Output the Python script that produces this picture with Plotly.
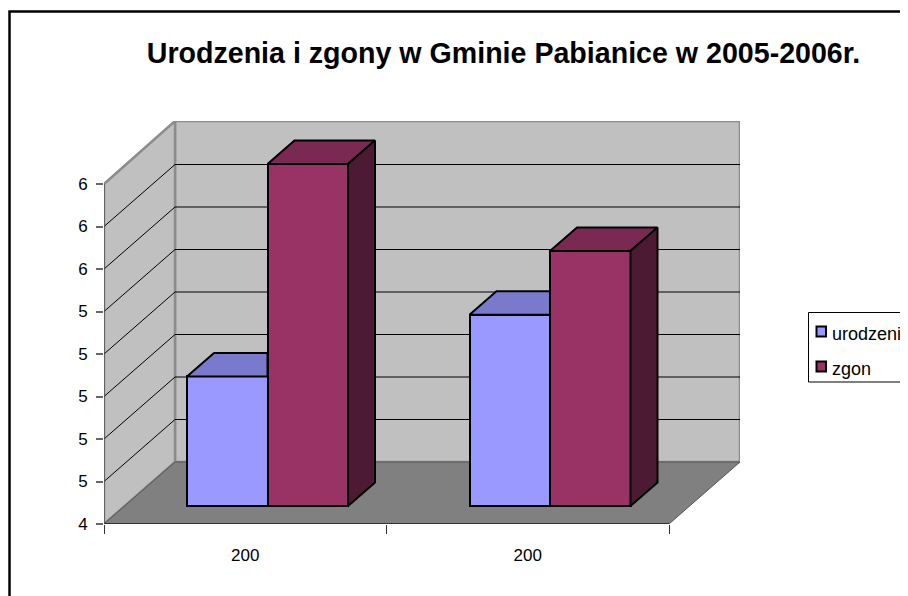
import plotly.graph_objects as go

# ---- data ----
title = "Urodzenia i zgony w Gminie Pabianice w 2005-2006r."
categories = ["200", "200"]
series_names = ["urodzeni", "zgon"]
urodzeni = [5.01, 5.3]
zgon = [6.01, 5.6]
y_ticks = [4.4, 4.6, 4.8, 5.0, 5.2, 5.4, 5.6, 5.8, 6.0]
y_labels = ["4", "5", "5", "5", "5", "5", "6", "6", "6"]

# ---- styles ----
FONT = "Liberation Sans, Arial, sans-serif"
WALL, FLOOR, BORDER = "#C0C0C0", "#808080", "#8C8C8C"
colors = {"urodzeni": ("#9999FF", "#7A7ACC", "#4D4D80"),
          "zgon": ("#993366", "#7A2952", "#4D1A33")}

# ---- geometry of the oblique projection (in axis units) ----
OFF = 8                               # the page's body margin
PAGE_W, PAGE_H = 908, 596
W, H = PAGE_W - OFF, PAGE_H - OFF
L, R, T, B = 104, 740, 121, 524       # plot-area position on the page
UX = 282.5                            # px per category
UY = 212.5                            # px per y unit
Y0 = y_ticks[0]
Y1 = y_ticks[-1]
DX, DY = 71 / UX, 62 / UY             # wall depth
XMAX = (R - L) / UX
YMAX = Y0 + (B - T) / UY
LIFT_X, LIFT_Y = 21 / UX, 18 / UY     # bar front offset from the front edge
BD_X, BD_Y = 27 / UX, 23.5 / UY       # bar depth
GAP, BW = 62 / UX, 80.5 / UX          # gap before first bar, bar width
NCAT = len(categories)


def px(x):
    return (x - L) / (R - L)


def py(y):
    return (B - y) / (B - T)


def poly(points):
    return "M" + "L".join(f"{x},{y}" for x, y in points) + "Z"


def seg(x0, y0, x1, y1, color, width):
    return dict(type="line", xref="x", yref="y", x0=x0, y0=y0, x1=x1, y1=y1,
                layer="below", line=dict(color=color, width=width))


shapes = []
# back wall, side wall, floor
shapes.append(dict(type="path", xref="x", yref="y", layer="below",
                   path=poly([(DX, Y0 + DY), (XMAX, Y0 + DY), (XMAX, YMAX), (DX, YMAX)]),
                   fillcolor=WALL, line=dict(color=BORDER, width=2.5)))
shapes.append(dict(type="path", xref="x", yref="y", layer="below",
                   path=poly([(0, Y0), (DX, Y0 + DY), (DX, YMAX), (0, Y1)]),
                   fillcolor=WALL, line=dict(color=BORDER, width=2.5)))
# gridlines
for t in y_ticks[1:-1]:
    shapes.append(seg(0, t, DX, t + DY, "#000000", 1))
    shapes.append(seg(DX, t + DY, XMAX, t + DY, "#000000", 1))
shapes.append(dict(type="path", xref="x", yref="y", layer="below",
                   path=poly([(0, Y0), (NCAT, Y0), (XMAX, Y0 + DY), (DX, Y0 + DY)]),
                   fillcolor=FLOOR, line=dict(color="#555555", width=1)))
# axis lines and x ticks
shapes.append(seg(0, Y0, 0, Y1, "#555555", 1.5))
shapes.append(seg(0, Y0, NCAT, Y0, "#333333", 2))

# chart frame (runs off the right and bottom of the page)
shapes.append(dict(type="path", xref="paper", yref="paper", layer="below",
                   path=f"M{px(PAGE_W + 5)},{py(11.5)}L{px(9.5)},{py(11.5)}L{px(9.5)},{py(PAGE_H + 5)}",
                   line=dict(color="#000000", width=2.5)))
# legend box and swatches
shapes.append(dict(type="rect", xref="paper", yref="paper",
                   x0=px(808.5), x1=px(PAGE_W + 5), y0=py(312.5), y1=py(382),
                   fillcolor="#FFFFFF", line=dict(color="#000000", width=1)))
annotations = []
for name, y in zip(series_names, (331.5, 366.5)):
    shapes.append(dict(type="rect", xref="paper", yref="paper",
                       x0=px(816.5), x1=px(826), y0=py(y - 5), y1=py(y + 5),
                       fillcolor=colors[name][0], line=dict(color="#000000", width=2)))
    annotations.append(dict(xref="paper", yref="paper", x=px(830), y=py(y + 2),
                            text=name, showarrow=False, xanchor="left", yanchor="middle",
                            font=dict(family=FONT, size=18, color="#000000")))

fig = go.Figure()

# bar faces: fronts are real bars, top and side are derived polygons
for s, (name, values) in enumerate(zip(series_names, (urodzeni, zgon))):
    front, top, side = colors[name]
    fig.add_trace(go.Bar(
        x=[i + GAP + LIFT_X + BW * s + BW / 2 for i in range(NCAT)],
        y=[v - Y0 for v in values],
        base=[Y0 + LIFT_Y] * NCAT,
        width=BW, name=name, marker=dict(color=front, line=dict(color="#000000", width=2)),
        showlegend=False))

for s, (name, values) in enumerate(zip(series_names, (urodzeni, zgon))):
    front, top, side = colors[name]
    for i, v in enumerate(values):
        x0 = i + GAP + LIFT_X + BW * s
        x1 = x0 + BW
        yt = v + LIFT_Y
        yb = Y0 + LIFT_Y
        if s == 0:  # the taller neighbour hides the right part of the top and the side
            xs = [x0, x0 + BD_X, x1, x1, x0]
            ys = [yt, yt + BD_Y, yt + BD_Y, yt, yt]
            fig.add_trace(go.Scatter(x=xs, y=ys, mode="lines", fill="toself", fillcolor=top,
                                     line=dict(color="#000000", width=2), showlegend=False))
        else:
            xs = [x0, x0 + BD_X, x1 + BD_X, x1, x0]
            ys = [yt, yt + BD_Y, yt + BD_Y, yt, yt]
            fig.add_trace(go.Scatter(x=xs, y=ys, mode="lines", fill="toself", fillcolor=top,
                                     line=dict(color="#000000", width=2), showlegend=False))
            xs = [x1, x1 + BD_X, x1 + BD_X, x1, x1]
            ys = [yt, yt + BD_Y, yb + BD_Y, yb, yt]
            fig.add_trace(go.Scatter(x=xs, y=ys, mode="lines", fill="toself", fillcolor=side,
                                     line=dict(color="#000000", width=2), showlegend=False))

fig.update_layout(
    width=W, height=H, autosize=False,
    margin=dict(l=L - OFF, r=PAGE_W - R, t=T - OFF, b=PAGE_H - B, pad=0),
    paper_bgcolor="#FFFFFF", plot_bgcolor="rgba(0,0,0,0)",
    barmode="overlay", bargap=0,
    title=dict(text=f"<b>{title}</b>", x=(503.5 - OFF) / W, y=1 - (53 - OFF) / H,
               xanchor="center", yanchor="middle",
               font=dict(family=FONT, size=28.6, color="#000000")),
    xaxis=dict(range=[0, XMAX], showgrid=False, zeroline=False, showline=False, fixedrange=True,
               tickmode="array", tickvals=[i + 0.5 for i in range(NCAT)], ticktext=categories,
               ticks="", ticklabelstandoff=19, tickfont=dict(family=FONT, size=17, color="#000000"),
               minor=dict(tickmode="array", tickvals=list(range(NCAT + 1)), ticks="outside",
                          ticklen=9, tickwidth=1, tickcolor="#333333", showgrid=False)),
    yaxis=dict(range=[Y0, YMAX], showgrid=False, zeroline=False, showline=False, fixedrange=True,
               tickmode="array", tickvals=y_ticks, ticktext=y_labels,
               ticks="outside", ticklen=7, tickwidth=1.5, tickcolor="#666666",
               ticklabelstandoff=5, tickfont=dict(family=FONT, size=17, color="#000000")),
    shapes=shapes, annotations=annotations, showlegend=False,
)

fig.write_html("out.html")
